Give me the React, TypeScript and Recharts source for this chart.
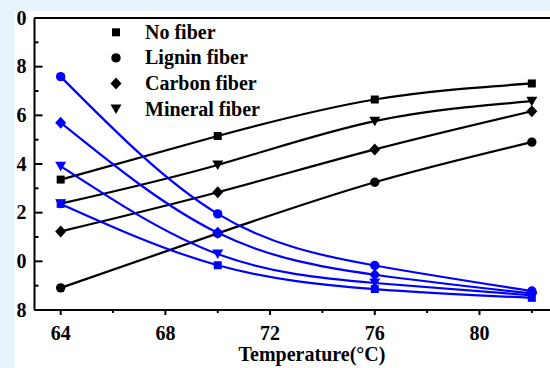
import React from 'react';
import { LineChart, Line, XAxis, YAxis, Legend, ReferenceLine } from 'recharts';

const temperatures = [64, 70, 76, 82];

// rising (black) series
const riseNoFiber = [23.36, 25.15, 26.65, 27.31];
const riseLignin = [18.91, 21.15, 23.25, 24.9];
const riseCarbon = [21.23, 22.84, 24.6, 26.17];
const riseMineral = [22.37, 23.96, 25.76, 26.58];

// falling (blue) series
const fallNoFiber = [22.36, 19.84, 18.86, 18.5];
const fallLignin = [27.59, 21.95, 19.83, 18.78];
const fallCarbon = [25.7, 21.17, 19.45, 18.68];
const fallMineral = [23.91, 20.3, 19.11, 18.6];

const xTicks = [64, 66, 68, 70, 72, 74, 76, 78, 80, 82];
const xLabeled = [64, 68, 72, 76, 80];
const yTicks = [18, 19, 20, 21, 22, 23, 24, 25, 26, 27, 28, 29, 30];
const yLabeled = [18, 20, 22, 24, 26, 28, 30];
const yTop = 30;

const legendLabels = ['No fiber', 'Lignin fiber', 'Carbon fiber', 'Mineral fiber'];
const legendShapes = ['square', 'circle', 'diamond', 'triangle'];

const data = temperatures.map((t, i) => ({
  t,
  riseNoFiber: riseNoFiber[i],
  riseLignin: riseLignin[i],
  riseCarbon: riseCarbon[i],
  riseMineral: riseMineral[i],
  fallNoFiber: fallNoFiber[i],
  fallLignin: fallLignin[i],
  fallCarbon: fallCarbon[i],
  fallMineral: fallMineral[i],
}));

const FONT = '"Liberation Serif", "Times New Roman", serif';
const BLUE = '#0000FF';

function Marker({ cx, cy, shape, color }: any) {
  if (cx == null || cy == null) return <g />;
  if (shape === 'square') return <rect x={cx - 4} y={cy - 4} width={8} height={8} fill={color} />;
  if (shape === 'circle') return <circle cx={cx} cy={cy} r={4.7} fill={color} />;
  if (shape === 'diamond')
    return (
      <polygon
        points={`${cx},${cy - 6} ${cx + 5.5},${cy} ${cx},${cy + 6} ${cx - 5.5},${cy}`}
        fill={color}
      />
    );
  return (
    <polygon
      points={`${cx - 5.5},${cy - 4.5} ${cx + 5.5},${cy - 4.5} ${cx},${cy + 5}`}
      fill={color}
    />
  );
}

const makeDot = (shape: string, color: string) => (props: any) => (
  <Marker key={`${shape}-${color}-${props.index}`} cx={props.cx} cy={props.cy} shape={shape} color={color} />
);

const YTick = (props: any) => {
  const { x, y, payload } = props;
  const v = payload.value;
  const major = yLabeled.includes(v);
  return (
    <g>
      <line x1={x} x2={x + (major ? 8 : 4)} y1={y} y2={y} stroke="#000" strokeWidth={2} />
      {major && (
        <text x={x - 8} y={y + 6.5} textAnchor="end" fontFamily={FONT} fontWeight="bold" fontSize={20} fill="#000">
          {String(v % 10)}
        </text>
      )}
    </g>
  );
};

const XTick = (props: any) => {
  const { x, y, payload } = props;
  const v = payload.value;
  const major = xLabeled.includes(v);
  return (
    <g>
      <line x1={x} x2={x} y1={y} y2={y + (major ? 5 : 3)} stroke="#000" strokeWidth={2} />
      {major && (
        <text x={x} y={y + 30} textAnchor="middle" fontFamily={FONT} fontWeight="bold" fontSize={20} fill="#000">
          {v}
        </text>
      )}
    </g>
  );
};

const LegendBox = () => (
  <svg width={230} height={110} style={{ display: 'block' }}>
    {legendLabels.map((label, i) => {
      const cy = 17.3 + i * 25.6;
      return (
        <g key={label}>
          <Marker cx={16} cy={cy} shape={legendShapes[i]} color="#000" />
          <text x={45} y={cy + 6.5} fontFamily={FONT} fontWeight="bold" fontSize={20} fill="#000">
            {label}
          </text>
        </g>
      );
    })}
  </svg>
);

export default function App() {
  return (
    <div
      style={{
        position: 'absolute',
        left: 0,
        top: 0,
        width: 550,
        height: 368,
        overflow: 'hidden',
        background: '#e8f4fc',
      }}
    >
      <div style={{ position: 'absolute', left: 15, top: 11, right: 0, bottom: 0, background: '#ffffff' }} />
      <div style={{ position: 'absolute', left: 0, top: 0 }}>
        <LineChart width={600} height={368} data={data} margin={{ top: 18, right: 42, bottom: 0, left: 0 }}>
          <XAxis
            dataKey="t"
            type="number"
            domain={[63, 83]}
            ticks={xTicks}
            interval={0}
            height={58}
            tickSize={0}
            tickMargin={0}
            tickLine={false}
            tick={<XTick />}
            axisLine={{ stroke: '#000', strokeWidth: 2 }}
            label={() => (
              <text x={312} y={361} textAnchor="middle" fontFamily={FONT} fontWeight="bold" fontSize={20} fill="#000">
                Temperature(°C)
              </text>
            )}
          />
          <YAxis
            type="number"
            domain={[18, 30]}
            ticks={yTicks}
            interval={0}
            width={34.5}
            tickSize={0}
            tickMargin={0}
            tickLine={false}
            tick={<YTick />}
            axisLine={{ stroke: '#000', strokeWidth: 2 }}
          />
          <ReferenceLine y={yTop} stroke="#000" strokeWidth={2} />
          <Legend
            layout="horizontal"
            verticalAlign="middle"
            align="center"
            wrapperStyle={{ left: 100, top: 15, width: 230 }}
            content={() => <LegendBox />}
          />
          <Line type="natural" dataKey="riseNoFiber" stroke="#000" strokeWidth={2.2} dot={makeDot('square', '#000')} isAnimationActive={false} />
          <Line type="natural" dataKey="riseLignin" stroke="#000" strokeWidth={2.2} dot={makeDot('circle', '#000')} isAnimationActive={false} />
          <Line type="natural" dataKey="riseCarbon" stroke="#000" strokeWidth={2.2} dot={makeDot('diamond', '#000')} isAnimationActive={false} />
          <Line type="natural" dataKey="riseMineral" stroke="#000" strokeWidth={2.2} dot={makeDot('triangle', '#000')} isAnimationActive={false} />
          <Line type="natural" dataKey="fallNoFiber" stroke={BLUE} strokeWidth={2.2} dot={makeDot('square', BLUE)} isAnimationActive={false} />
          <Line type="natural" dataKey="fallLignin" stroke={BLUE} strokeWidth={2.2} dot={makeDot('circle', BLUE)} isAnimationActive={false} />
          <Line type="natural" dataKey="fallCarbon" stroke={BLUE} strokeWidth={2.2} dot={makeDot('diamond', BLUE)} isAnimationActive={false} />
          <Line type="natural" dataKey="fallMineral" stroke={BLUE} strokeWidth={2.2} dot={makeDot('triangle', BLUE)} isAnimationActive={false} />
        </LineChart>
      </div>
    </div>
  );
}
